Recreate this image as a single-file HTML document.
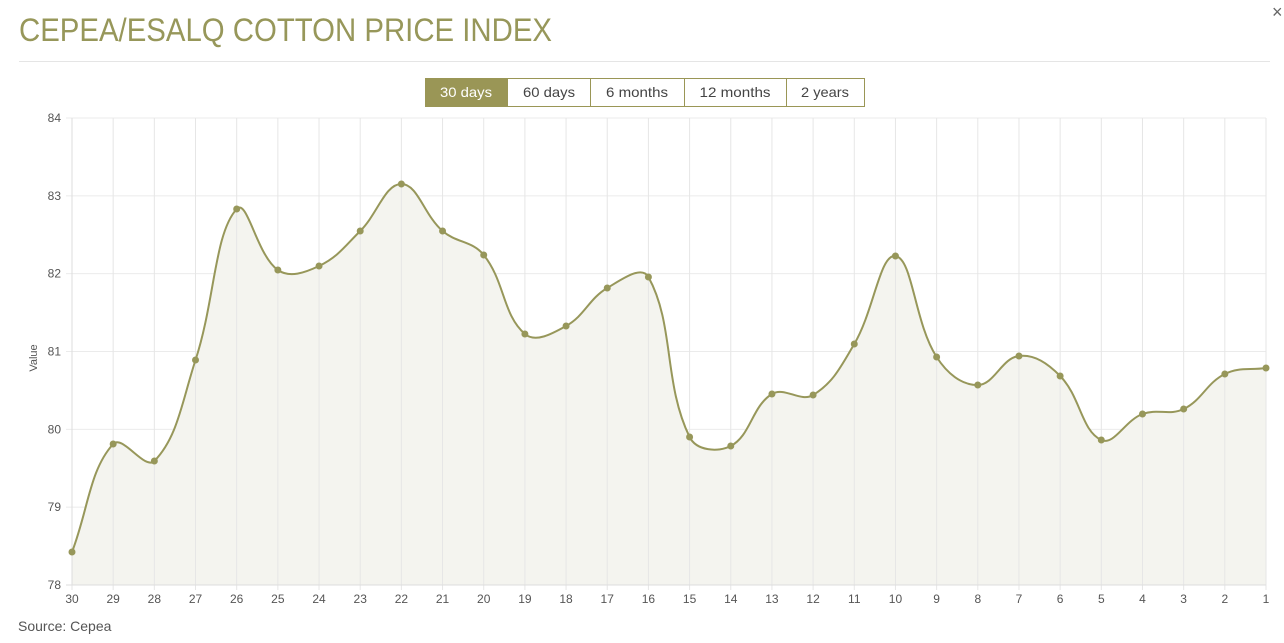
<!DOCTYPE html>
<html><head><meta charset="utf-8"><style>
html,body{margin:0;padding:0;background:#fff;width:1284px;height:643px;overflow:hidden}
svg{display:block}
text{font-family:"Liberation Sans",sans-serif}
</style></head><body>
<svg id="s" width="1284" height="643" xmlns="http://www.w3.org/2000/svg">
<text x="19" y="41" font-size="32" fill="#97975a" textLength="533" lengthAdjust="spacingAndGlyphs">CEPEA/ESALQ COTTON PRICE INDEX</text>
<text x="1272" y="18" font-size="18" fill="#666">×</text>
<line x1="19" y1="61.5" x2="1270" y2="61.5" stroke="#e5e5e5"/>
<rect x="425.5" y="78.5" width="439" height="28" fill="#fff" stroke="#9a9656"/>
<rect x="425" y="78" width="83" height="29" fill="#9a9656"/>
<line x1="590.5" y1="78" x2="590.5" y2="106" stroke="#9a9656"/>
<line x1="684.5" y1="78" x2="684.5" y2="106" stroke="#9a9656"/>
<line x1="786.5" y1="78" x2="786.5" y2="106" stroke="#9a9656"/>
<g font-size="14" text-anchor="middle">
<text x="466" y="97" fill="#fff" textLength="52" lengthAdjust="spacingAndGlyphs">30 days</text>
<text x="549" y="97" fill="#444" textLength="52" lengthAdjust="spacingAndGlyphs">60 days</text>
<text x="637" y="97" fill="#444" textLength="62" lengthAdjust="spacingAndGlyphs">6 months</text>
<text x="735" y="97" fill="#444" textLength="71" lengthAdjust="spacingAndGlyphs">12 months</text>
<text x="825" y="97" fill="#444" textLength="48" lengthAdjust="spacingAndGlyphs">2 years</text>
</g>
<g id="grid"></g>
<path id="area" fill="#f4f4ef"/>
<g id="grid2"></g>
<path id="line" fill="none" stroke="#97975a" stroke-width="2"/>
<g id="pts" fill="#97975a"></g>
<g id="labels" font-size="12" fill="#555"></g>
<text x="37" y="358" font-size="11" fill="#555" text-anchor="middle" transform="rotate(-90 37 358)">Value</text>
<text x="18" y="631" font-size="14" fill="#555">Source: Cepea</text>
</svg>
<script>
var ys=[552,444,461,360,209,270,266,231,184,231,255,334,326,288,277,437,446,394,395,344,256,357,385,356,376,440,414,409,374,368];
var X0=72,X1=1266,Y0=118,Y1=585,n=ys.length,dx=(X1-X0)/(n-1);
var ns="http://www.w3.org/2000/svg";
function el(p,t,a,txt){var e=document.createElementNS(ns,t);for(var k in a)e.setAttribute(k,a[k]);if(txt!=null)e.textContent=txt;document.getElementById(p).appendChild(e);return e;}
var step=(Y1-Y0)/6;
for(var i=0;i<=6;i++){var y=Y0+i*step;el("grid","line",{x1:66,x2:X1,y1:y,y2:y,stroke:"#ebebeb"});
el("labels","text",{x:61,y:y+4,"text-anchor":"end"},String(84-i));}
for(var i=0;i<n;i++){var x=X0+i*dx;el("grid2","line",{x1:x,x2:x,y1:Y0,y2:Y1+5,stroke:"#e6e6e6"});
el("labels","text",{x:x,y:603,"text-anchor":"middle"},String(30-i));}
el("grid2","line",{x1:X0,x2:X0,y1:Y0,y2:Y1,stroke:"#ddd"});
el("grid2","line",{x1:66,x2:X1,y1:Y1,y2:Y1,stroke:"#ddd"});
var P=ys.map(function(y,i){return [X0+i*dx,y]});
var t=0.4,d="M"+P[0][0]+","+P[0][1];
function cp(i){var p=P[Math.max(i-1,0)],c=P[i],nx=P[Math.min(i+1,n-1)];
var d01=Math.hypot(c[0]-p[0],c[1]-p[1]),d12=Math.hypot(nx[0]-c[0],nx[1]-c[1]);
var s=d01+d12||1,fa=t*d01/s,fb=t*d12/s;
return [[c[0]-fa*(nx[0]-p[0]),c[1]-fa*(nx[1]-p[1])],[c[0]+fb*(nx[0]-p[0]),c[1]+fb*(nx[1]-p[1])]];}
var C=P.map(function(_,i){return cp(i)});
for(var i=1;i<n;i++){var a=C[i-1][1],b=C[i][0];d+=" C"+a[0]+","+a[1]+" "+b[0]+","+b[1]+" "+P[i][0]+","+P[i][1];}
document.getElementById("line").setAttribute("d",d);
document.getElementById("area").setAttribute("d",d+" L"+X1+","+Y1+" L"+X0+","+Y1+" Z");
P.forEach(function(p){el("pts","circle",{cx:p[0],cy:p[1],r:3.5});});
</script>
</body></html>
